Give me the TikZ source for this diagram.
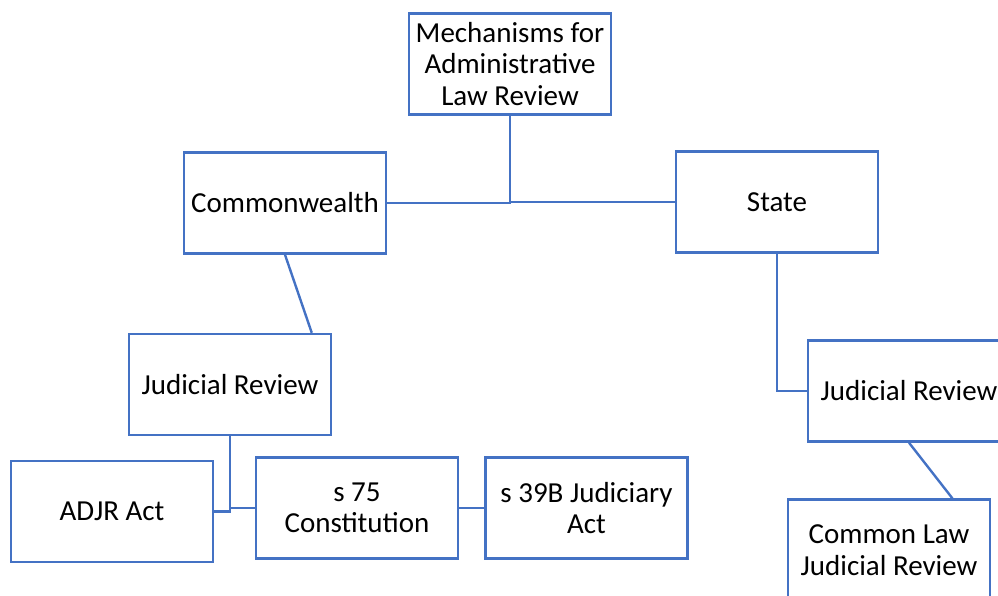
\documentclass[tikz,border=0pt]{standalone}
\usepackage{fontspec}
\setmainfont{Carlito}
\usetikzlibrary{calc}
\definecolor{boxblue}{RGB}{68,114,196}

\begin{document}
\begin{tikzpicture}[x=1pt,y=-1pt,
    box/.style={draw=boxblue,line width=2.4pt,minimum width=202pt,minimum height=101pt,
      inner sep=0pt,align=center,font=\fontsize{29}{31.5}\selectfont},
    link/.style={draw=boxblue,line width=2.4pt}]
    \useasboundingbox (0,0) rectangle (998,596);
    \node[box] (mech) at (510,64) {Mechanisms for\\Administrative\\Law Review};
    \node[box] (cw) at (285,203) {Commonwealth};
    \node[box] (state) at (777,202) {State};
    \node[box] (jrcw) at (230,384.5) {Judicial Review};
    \node[box] (adjr) at (112,511.5) {ADJR Act};
    \node[box] (s75) at (357,508) {s 75\\Constitution};
    \node[box] (s39b) at (586.5,508) {s 39B Judiciary\\Act};
    \node[box] (jrst) at (909,391) {Judicial Review};
    \node[box] (cljr) at (889,550) {Common Law\\Judicial Review};
    \draw[link] (mech.south) |- (cw.east);
    \draw[link] (mech.south) |- (state.west);
    \draw[link] (cw.south) -- ($(jrcw.north west)!0.9!(jrcw.north east)$);
    \draw[link] (jrcw.south) |- (adjr.east);
    \draw[link] (jrcw.south) |- (s75.west);
    \draw[link] (s75.east) -- (s39b.west);
    \draw[link] (state.south) |- (jrst.west);
    \draw[link] (jrst.south) -- ($(cljr.north west)!0.81!(cljr.north east)$);
\end{tikzpicture}
\end{document}
